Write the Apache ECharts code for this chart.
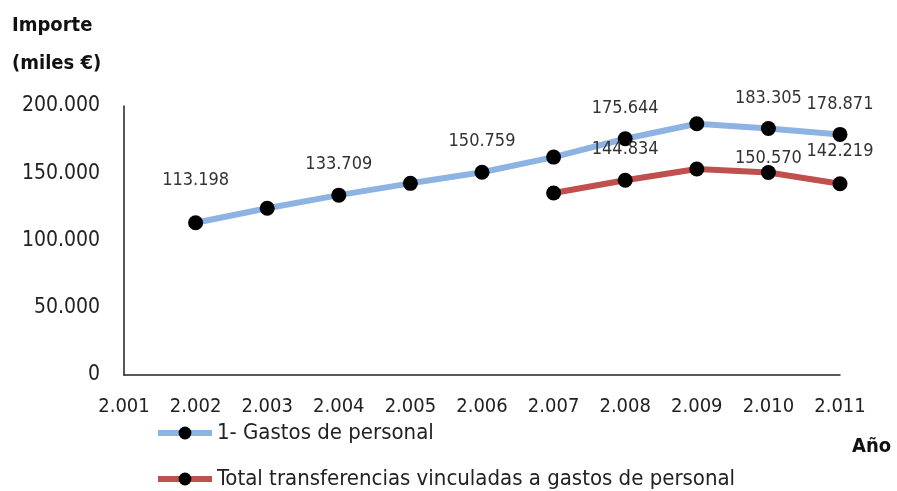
<!doctype html>
<html lang="es">
<head>
	<meta charset="UTF-8">
	<title>Gastos de personal</title>
	<style>
		html, body { margin: 0; padding: 0; background: #fff; }
		#chart { width: 897px; height: 491px; }
	</style>
</head>
<body>
<div id="chart"></div>
<script src="https://cdn.jsdelivr.net/npm/echarts@6/dist/echarts.min.js"></script>
<script>
	// datos
	var years = [2002, 2003, 2004, 2005, 2006, 2007, 2008, 2009, 2010, 2011];
	var gastosPersonal = [113198, 124000, 133709, 142500, 150759, 162000, 175644, 186800, 183305, 178871];
	var transferencias = [null, null, null, null, null, 135300, 144834, 153200, 150570, 142219];
	var gastosLabeled = [2002, 2004, 2006, 2008, 2010, 2011];
	var transfLabeled = [2008, 2010, 2011];
	var seriesNames = ['1- Gastos de personal', 'Total transferencias vinculadas a gastos de personal'];
	var seriesColors = ['#8DB3E2', '#C0504D'];

	var FONT = '"Liberation Sans Narrow", "DejaVu Sans Condensed", "Open Sans", sans-serif';

	// separador de miles con punto
	function fmt(v) {
		return String(v).replace(/\B(?=(\d{3})+(?!\d))/g, '.');
	}

	function buildData(values, labeled, dist) {
		var out = [];
		for (var i = 0; i < years.length; i++) {
			if (values[i] == null) continue;
			var item = { value: [years[i], values[i]] };
			if (labeled.indexOf(years[i]) >= 0) {
				item.label = { show: true, position: 'top', distance: dist[years[i]] || 14 };
			}
			out.push(item);
		}
		return out;
	}

	// una leyenda por serie, una debajo de otra
	function legendFor(i, top) {
		return {
			left: 155,
			top: top,
			padding: 0,
			itemWidth: 54,
			itemHeight: 16,
			textStyle: { fontSize: 22, color: '#222', fontFamily: FONT },
			data: [{ name: seriesNames[i], lineStyle: { width: 6, color: seriesColors[i] } }]
		};
	}

	var myChart = echarts.init(document.getElementById('chart'));
	var option = {
		animation: false,
		textStyle: { fontFamily: FONT },
		grid: { left: 124, right: 57, top: 106, bottom: 116 },
		graphic: [
			{ type: 'text', left: 12, top: 7, style: { text: 'Importe\n(miles €)', font: 'bold 20px ' + FONT, fill: '#111', lineHeight: 38 } },
			{ type: 'text', left: 852, top: 437, style: { text: 'Año', font: 'bold 20px ' + FONT, fill: '#111' } }
		],
		legend: [legendFor(0, 422), legendFor(1, 468)],
		xAxis: {
			type: 'value',
			min: 2001,
			max: 2011,
			interval: 1,
			axisLine: { show: true, lineStyle: { color: '#222', width: 1.5 } },
			axisTick: { show: false },
			splitLine: { show: false },
			axisLabel: {
				fontSize: 20, color: '#222', margin: 22,
				formatter: function (v) { return fmt(v); }
			}
		},
		yAxis: {
			type: 'value',
			min: 0,
			max: 200000,
			interval: 50000,
			axisLine: { show: true, lineStyle: { color: '#222', width: 1.5 } },
			axisTick: { show: false },
			splitLine: { show: false },
			axisLabel: {
				fontSize: 21, color: '#222', margin: 24,
				formatter: function (v) { return fmt(v); }
			}
		},
		series: [
			{
				name: seriesNames[0],
				type: 'line',
				data: buildData(gastosPersonal, gastosLabeled, { 2002: 26 }),
				symbol: 'circle',
				symbolSize: 15,
				itemStyle: { color: '#000' },
				lineStyle: { color: seriesColors[0], width: 6 },
				label: {
					fontSize: 18, color: '#333',
					formatter: function (p) { return fmt(p.value[1]); }
				},
				z: 2
			},
			{
				name: seriesNames[1],
				type: 'line',
				data: buildData(transferencias, transfLabeled, { 2008: 0, 2010: -2, 2011: 16 }),
				symbol: 'circle',
				symbolSize: 15,
				itemStyle: { color: '#000' },
				lineStyle: { color: seriesColors[1], width: 6 },
				label: {
					fontSize: 18, color: '#333',
					formatter: function (p) { return fmt(p.value[1]); }
				},
				z: 3
			}
		]
	};
	myChart.setOption(option);
</script>
</body>
</html>
